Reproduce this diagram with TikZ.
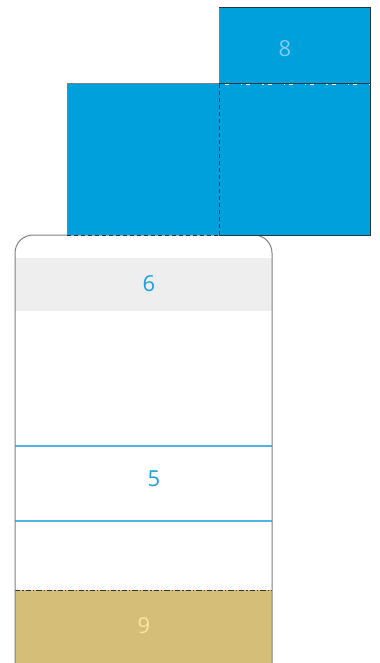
\documentclass[tikz,border=0pt]{standalone}
\usepackage{fontspec}
\setmainfont{Open Sans}
\definecolor{panel}{HTML}{00A0DD}
\definecolor{edge}{HTML}{808080}
\definecolor{ink}{HTML}{263641}
\definecolor{band}{HTML}{EEEEEE}
\definecolor{rule}{HTML}{4FB3E6}
\definecolor{tag}{HTML}{19A0E3}
\definecolor{paletag}{HTML}{80CDF0}
\definecolor{sand}{HTML}{D5BF78}
\definecolor{sandtag}{HTML}{FFE39A}

\begin{document}
\begin{tikzpicture}[x=.75pt,y=-.75pt,line width=.75pt,font=\fontsize{16.5}{20}\selectfont,
  dashline/.style={ink,dash pattern=on 3pt off 2.25pt}]
 \useasboundingbox(0,0)rectangle(379,663);
 % container
 \fill[band](15,258)rectangle(272,311);
 \draw[rule,line width=.9pt](15,446)--(272,446);\draw[rule,line width=.9pt](15,521)--(272,521);
 \fill[sand](15,590)rectangle(272,663);
 \draw[ink,dash pattern=on 4pt off 1.5pt on 1pt off 1.5pt](15,590)--(272,590);
 \draw[edge,rounded corners=13.5pt](15,663)--(15,235)--(272,235)--(272,663);
 % lid
 \fill[panel](219,8)rectangle(370,84);\fill[panel](67,84)rectangle(370,235);
 \draw[edge](219,84)--(219,8);\draw[ink](219,8)--(370,8)--(370,235)--(219,235);
 \draw[edge](219,84)--(67,84)--(67,235);
 \draw[dashline](67,235)--(219,235);\draw[dashline](219,84)--(219,235);
 \draw[ink](219,84)--(370,84);
 \draw[white,line width=.6pt,dash pattern=on 3pt off 9pt on 1pt off 3pt](225,84)--(370,84);
 \node[text=paletag](lbl8)at(285,49){8};
 \node[text=tag](lbl6)at(149,284){6};
 \node[text=tag](lbl5)at(154,479){5};
 \node[text=sandtag](lbl9)at(144,626){9};
\end{tikzpicture}
\end{document}
